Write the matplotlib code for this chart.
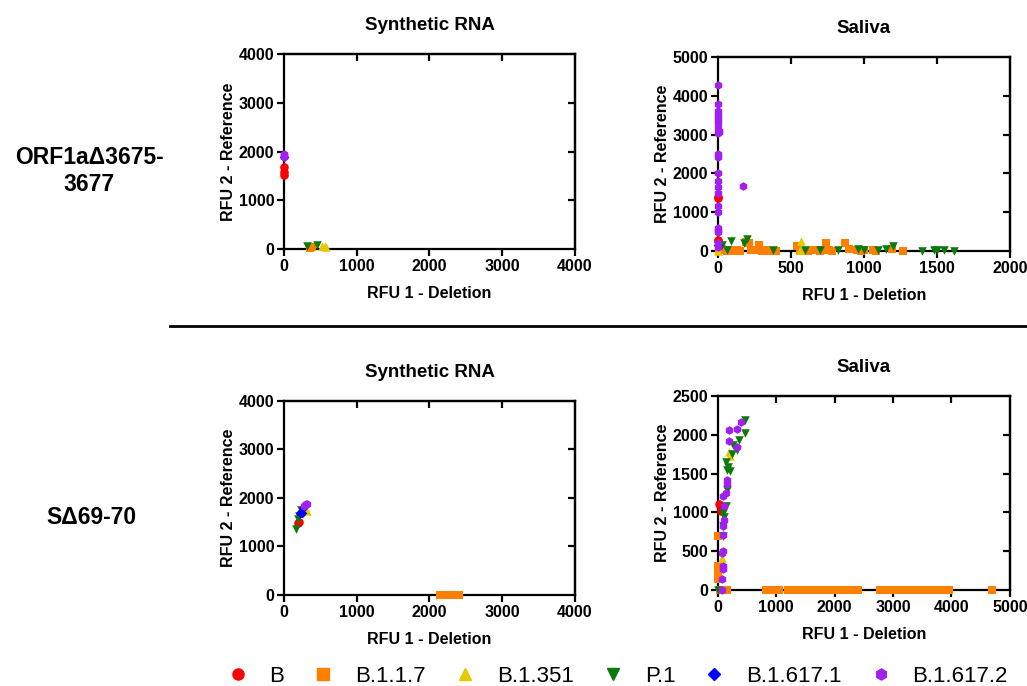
import matplotlib
matplotlib.use("Agg")
import matplotlib.pyplot as plt
from matplotlib.lines import Line2D

plt.rcParams['font.family'] = ['Liberation Sans', 'DejaVu Sans']
plt.rcParams['font.weight'] = 'bold'

# variant names, colours, markers
variants = ["B", "B.1.1.7", "B.1.351", "P.1", "B.1.617.1", "B.1.617.2"]
colors = ["#ff0000", "#ff8000", "#e6c800", "#0a7a0a", "#0000ff", "#a020f0"]
markers = ["o", "s", "^", "v", "D", "h"]

# ORF1a deletion - synthetic RNA  (x = RFU 1 deletion, y = RFU 2 reference)
orf_syn = {
    "B": ([0, 0, 0], [1520, 1580, 1680]),
    "B.1.1.7": ([360, 390], [30, 40]),
    "B.1.351": ([520, 560, 580], [60, 70, 40]),
    "P.1": ([320, 450], [60, 80]),
    "B.1.617.1": ([0], [1880]),
    "B.1.617.2": ([0, 0, 0], [1880, 1920, 1950]),
}

# ORF1a deletion - saliva
orf_sal = {
    "B": ([0, 0, 0, 0], [1370, 1400, 250, 280]),
    "B.1.1.7": ([10, 25, 40, 60, 70, 80, 100, 110, 120, 130, 150, 190, 210, 230, 250, 280,
                 300, 330, 360, 400, 540, 560, 620, 650, 680, 700, 720, 740, 760, 780, 870,
                 900, 950, 980, 1000, 1060, 1080, 1190, 1270],
                [20, 50, 30, 10, 40, 20, 40, 10, 30, 20, 10, 240, 220, 30, 20, 150,
                 10, 20, 10, 10, 120, 10, 10, 20, 30, 10, 20, 220, 30, 10, 220,
                 60, 20, 10, 30, 20, 10, 60, 10]),
    "B.1.351": ([0, 570, 560], [0, 250, 20]),
    "P.1": ([30, 90, 200, 180, 60, 380, 600, 700, 820, 960, 1000, 1100, 1150, 1200,
             1400, 1480, 1500, 1550, 1620],
            [150, 260, 310, 200, 20, 20, 20, 40, 30, 50, 40, 20, 60, 130,
             10, 30, 30, 20, 10]),
    "B.1.617.1": ([0], [150]),
    "B.1.617.2": ([0, 0, 0, 0, 0, 0, 0, 10, 5, 0, 0, 0, 0, 0, 0, 0, 0, 0, 0, 0, 0, 0, 0, 170],
                  [4280, 3800, 3620, 3500, 3400, 3300, 3180, 3100, 3080, 3050, 2500, 2420,
                   2020, 1800, 1650, 1500, 1150, 1000, 600, 550, 500, 200, 100, 1670]),
}

# S deletion 69-70 - synthetic RNA
s_syn = {
    "B": ([190, 210, 230], [1480, 1500, 1700]),
    "B.1.1.7": ([2150, 2180, 2300, 2350, 2400], [0, 0, 0, 0, 0]),
    "B.1.351": ([300, 320, 280], [1760, 1740, 1820]),
    "P.1": ([160, 190, 200, 230], [1350, 1560, 1620, 1760]),
    "B.1.617.1": ([220, 250, 260], [1700, 1680, 1800]),
    "B.1.617.2": ([290, 300, 270, 310], [1850, 1880, 1830, 1870]),
}

# S deletion 69-70 - saliva
s_sal = {
    "B": ([23, 57], [1113, 1015]),
    "B.1.1.7": ([0, 0, 0, 0, 0, 0, 30, 150, 830, 880, 920, 980, 1050, 1200, 1280, 1350, 1420,
                 1470, 1540, 1580, 1650, 1750, 1800, 1850, 1900, 1950, 2000, 2050, 2100,
                 2150, 2200, 2250, 2300, 2350, 2400, 2780, 2850, 2950, 3000, 3050, 3150,
                 3200, 3250, 3300, 3350, 3400, 3450, 3500, 3600, 3650, 3750, 3800, 3850,
                 3950, 4700],
                [693, 308, 260, 223, 180, 137, 0, 0, 0, 0, 0, 0, 0, 0, 0, 0, 0,
                 0, 0, 0, 0, 0, 0, 0, 0, 0, 0, 0, 0,
                 0, 0, 0, 0, 0, 0, 0, 0, 0, 0, 0, 0,
                 0, 0, 0, 0, 0, 0, 0, 0, 0, 0, 0, 0,
                 0, 0]),
    "B.1.351": ([206, 194, 69], [1720, 1772, 415]),
    "P.1": ([463, 463, 366, 263, 320, 234, 137, 177, 160, 206, 149, 137, 91, 103, 80, 91, 0],
            [2192, 2021, 1935, 1871, 1806, 1755, 1644, 1584, 1550, 1528, 1293, 1079, 993,
             942, 822, 693, 0]),
    "B.1.617.1": ([], []),
    "B.1.617.2": ([194, 194, 320, 389, 320, 149, 160, 137, 91, 109, 103, 91, 80, 91, 69, 80,
                   91, 69, 69],
                  [2055, 1922, 2072, 2158, 1836, 1421, 1370, 1250, 1207, 1087, 907, 822,
                   702, 501, 480, 308, 265, 137, 0]),
}

fig = plt.figure(figsize=(10.27, 6.86), dpi=100)

panels = [
    (orf_syn, [0.2765, 0.637, 0.2834, 0.2843], "Synthetic RNA", 4000, 4000, 1000, 1000),
    (orf_sal, [0.699, 0.634, 0.2843, 0.2828], "Saliva", 2000, 5000, 500, 1000),
    (s_syn, [0.2765, 0.1327, 0.2834, 0.2828], "Synthetic RNA", 4000, 4000, 1000, 1000),
    (s_sal, [0.699, 0.140, 0.2843, 0.2828], "Saliva", 5000, 2500, 1000, 500),
]

for data, pos, title, xmax, ymax, xstep, ystep in panels:
    ax = fig.add_axes(pos)
    for name, c, m in zip(variants, colors, markers):
        xs, ys = data[name]
        sz = 24 if m == "D" else 38
        ax.scatter(xs, ys, s=sz, c=c, marker=m, linewidths=0, clip_on=False, zorder=3)
    ax.set_xlim(0, xmax)
    ax.set_ylim(0, ymax)
    xt = list(range(0, xmax + 1, xstep))
    yt = list(range(0, ymax + 1, ystep))
    ax.set_xticks(xt)
    ax.set_yticks(yt)
    for s in ax.spines.values():
        s.set_linewidth(1.6)
    ax.tick_params(width=1.6, length=5, labelsize=11.5, pad=2)
    for lab in ax.get_xticklabels() + ax.get_yticklabels():
        lab.set_fontweight('bold')
    # inward ticks on the top and right frame
    top = ax.secondary_xaxis('top')
    top.set_xticks(xt[1:-1])
    top.tick_params(direction='in', width=1.6, length=5, labeltop=False)
    top.spines['top'].set_linewidth(1.6)
    right = ax.secondary_yaxis('right')
    right.set_yticks(yt[1:-1])
    right.tick_params(direction='in', width=1.6, length=5, labelright=False)
    right.spines['right'].set_linewidth(1.6)
    ax.set_title(title, fontsize=13.5, fontweight='bold', pad=17)
    ax.set_xlabel("RFU 1 - Deletion", fontsize=11.5, fontweight='bold', labelpad=9)
    ax.set_ylabel("RFU 2 - Reference", fontsize=11.5, fontweight='bold', labelpad=2)

fig.text(0.087, 0.751, "ORF1aΔ3675-\n3677", ha='center', va='center',
         fontsize=16.5, fontweight='bold', linespacing=1.25)
fig.text(0.089, 0.246, "SΔ69-70", ha='center', va='center', fontsize=16.5, fontweight='bold')

fig.add_artist(Line2D([170 / 1027, 1.0], [1 - 326 / 686, 1 - 326 / 686],
                      color='black', linewidth=2))

handles = [Line2D([], [], linestyle='none', marker=m, color=c, markersize=8 if m != "D" else 6)
           for c, m in zip(colors, markers)]
fig.legend(handles, variants, loc='center', bbox_to_anchor=(0.601, 0.014), ncol=6,
           frameon=False, handletextpad=0.94, columnspacing=1.25, handlelength=1.0,
           borderpad=0.0, prop={'weight': 'normal', 'size': 16})

fig.savefig("out.png", dpi=100)
